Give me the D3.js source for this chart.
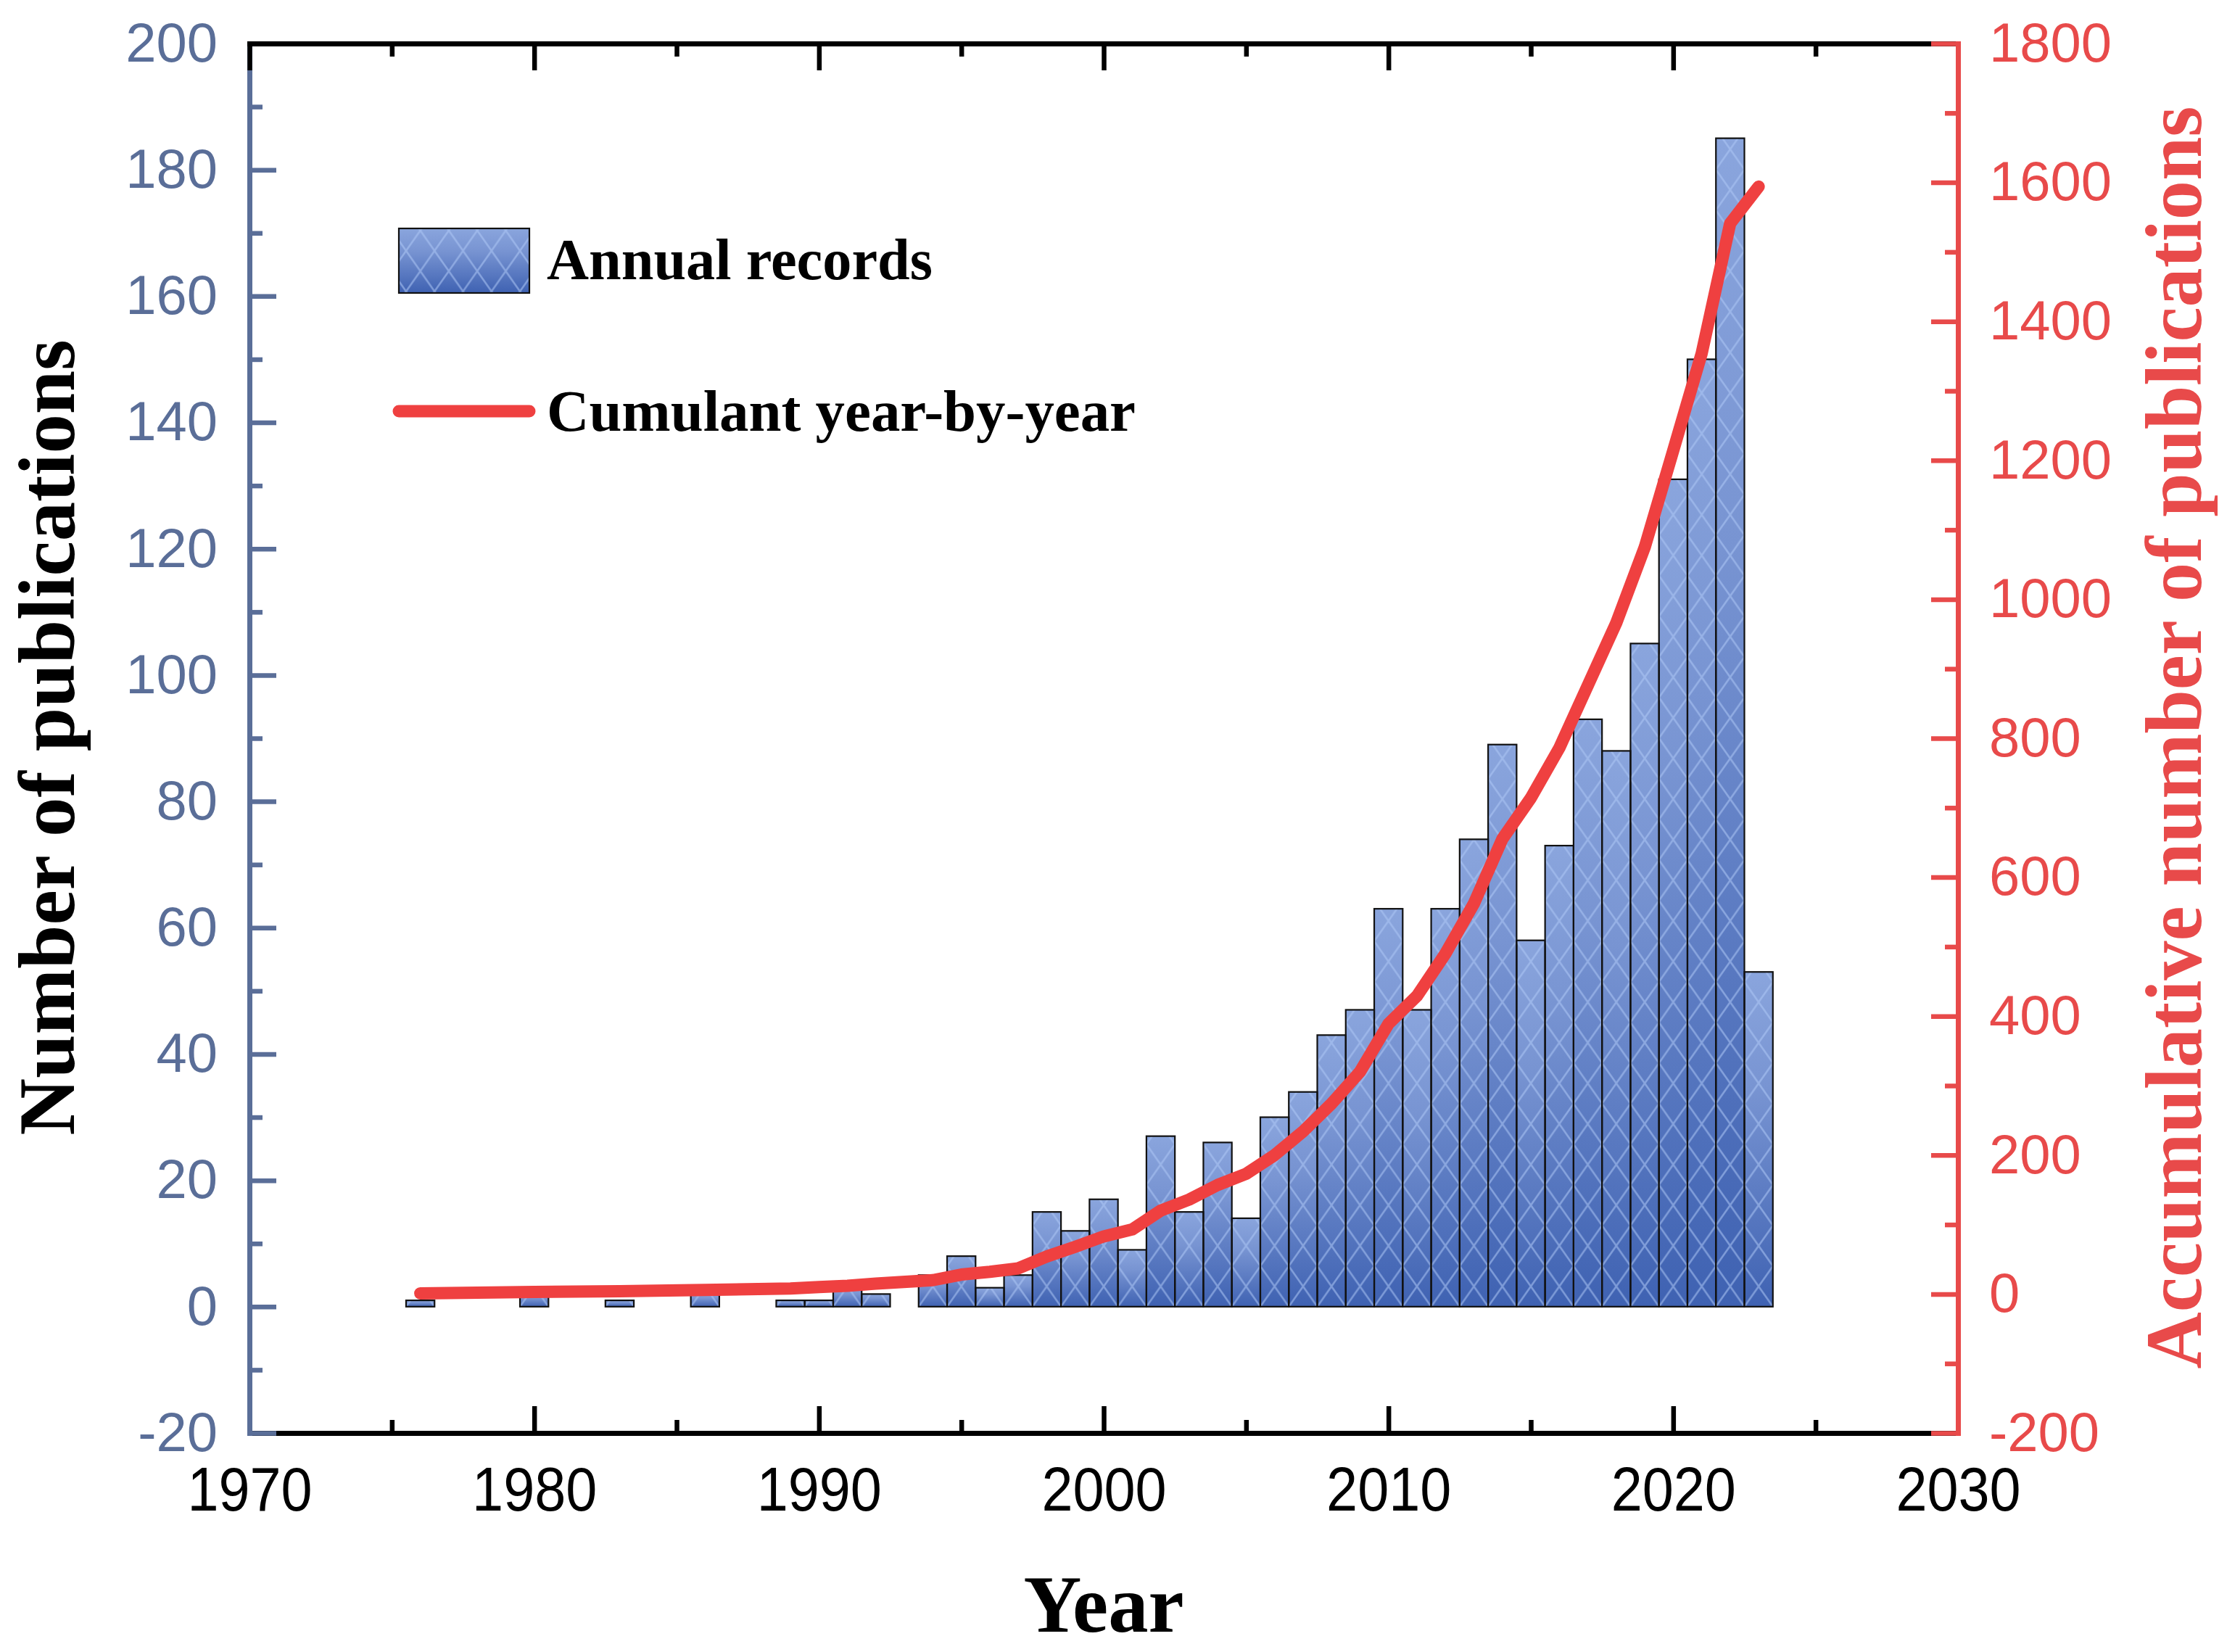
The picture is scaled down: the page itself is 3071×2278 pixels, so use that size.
<!DOCTYPE html>
<html>
<head>
<meta charset="utf-8">
<script src="https://cdn.jsdelivr.net/npm/d3@7"></script>
<style>
  body { margin: 0; background: #fff; }
</style>
</head>
<body>
<div id="chart"></div>
<script>
// years that have records (bars and cumulative line share them)
const years = [1976, 1980, 1983, 1986, 1989, 1990, 1991, 1992, 1994, 1995, 1996, 1997, 1998, 1999,
  2000, 2001, 2002, 2003, 2004, 2005, 2006, 2007, 2008, 2009, 2010, 2011, 2012, 2013, 2014,
  2015, 2016, 2017, 2018, 2019, 2020, 2021, 2022, 2023];
const annualRecords = [1, 2, 1, 2, 1, 1, 3, 2, 5, 8, 3, 5, 15, 12,
  17, 9, 27, 15, 26, 14, 30, 34, 43, 47, 63, 47, 63, 74, 89,
  58, 73, 93, 88, 105, 131, 150, 185, 53];
const cumulative = [1, 3, 4, 6, 8, 10, 12, 15, 20, 28, 32, 37, 54, 68,
  83, 93, 120, 136, 157, 173, 200, 234, 274, 320, 389, 429, 490, 562, 655,
  714, 786, 876, 966, 1075, 1214, 1354, 1541, 1594];

// tick labels
const yearTicks = [1970, 1980, 1990, 2000, 2010, 2020, 2030];
const yearMinor = [1975, 1985, 1995, 2005, 2015, 2025];
const leftTicks = [-20, 0, 20, 40, 60, 80, 100, 120, 140, 160, 180, 200];
const leftMinor = [-10, 10, 30, 50, 70, 90, 110, 130, 150, 170, 190];
const rightTicks = [-200, 0, 200, 400, 600, 800, 1000, 1200, 1400, 1600, 1800];
const rightMinor = [-100, 100, 300, 500, 700, 900, 1100, 1300, 1500, 1700];

const W = 3071, H = 2278;
const plot = {left: 344, right: 2700, top: 60, bottom: 1976};
const blueAxis = "#5a6e98";
const redAxis = "#e84a4a";
const lineRed = "#ef4040";
const plain = d => String(d);

const svg = d3.select("#chart").append("svg")
  .attr("width", W)
  .attr("height", H)
  .style("background", "#fff");

const x = d3.scaleLinear().domain([1970, 2030]).range([plot.left, plot.right]);
const yL = d3.scaleLinear().domain([-20, 200]).range([plot.bottom, plot.top]);
const yR = d3.scaleLinear().domain([-200, 1800]).range([plot.bottom, plot.top]);

const barW = x(1971) - x(1970);

// gradient + lattice pattern for bars
const defs = svg.append("defs");
const grad = defs.append("linearGradient")
  .attr("id", "barGrad")
  .attr("x1", 0).attr("y1", 0).attr("x2", 0).attr("y2", 1);
grad.append("stop").attr("offset", "0%").attr("stop-color", "#8aa5dd");
grad.append("stop").attr("offset", "35%").attr("stop-color", "#7894d2");
grad.append("stop").attr("offset", "100%").attr("stop-color", "#3f62b2");

const pat = defs.append("pattern")
  .attr("id", "lattice")
  .attr("patternUnits", "userSpaceOnUse")
  .attr("x", x(1969.5))
  .attr("y", yL(0))
  .attr("width", barW)
  .attr("height", 56);
pat.append("path")
  .attr("d", `M0,0L${barW},56M${barW},0L0,56`)
  .attr("stroke", "rgba(175,200,245,0.55)")
  .attr("stroke-width", 2.5)
  .attr("fill", "none");

const data = years.map((yr, i) => ({year: yr, n: annualRecords[i], cum: cumulative[i]}));

// bars
const bars = svg.append("g");
bars.selectAll("rect.fill")
  .data(data)
  .enter().append("rect")
  .attr("class", "fill")
  .attr("x", d => x(d.year - 0.5))
  .attr("width", barW)
  .attr("y", d => yL(d.n))
  .attr("height", d => yL(0) - yL(d.n))
  .attr("fill", "url(#barGrad)");
bars.selectAll("rect.hatch")
  .data(data)
  .enter().append("rect")
  .attr("class", "hatch")
  .attr("x", d => x(d.year - 0.5))
  .attr("width", barW)
  .attr("y", d => yL(d.n))
  .attr("height", d => yL(0) - yL(d.n))
  .attr("fill", "url(#lattice)")
  .attr("stroke", "#111")
  .attr("stroke-width", 2.2);

// cumulative line
const line = d3.line()
  .x(d => x(d.year))
  .y(d => yR(d.cum));
svg.append("path")
  .datum(data)
  .attr("d", line)
  .attr("fill", "none")
  .attr("stroke", lineRed)
  .attr("stroke-width", 17)
  .attr("stroke-linecap", "round")
  .attr("stroke-linejoin", "round");

// axes
function styleAxis(g, color) {
  g.select(".domain")
    .attr("stroke", color)
    .attr("stroke-width", 7)
    .attr("stroke-linecap", "square");
  g.selectAll(".tick line")
    .attr("stroke", color)
    .attr("stroke-width", 6.5);
  g.selectAll(".tick text")
    .attr("fill", color)
    .style("font-family", "'Liberation Sans', Arial, sans-serif");
}

// bottom
const gBottom = svg.append("g").attr("transform", `translate(0,${plot.bottom})`);
gBottom.append("g")
  .call(d3.axisBottom(x).tickValues(yearMinor).tickSize(-18).tickSizeOuter(0).tickFormat(""))
  .call(g => styleAxis(g, "#000"));
gBottom.append("g")
  .call(d3.axisBottom(x).tickValues(yearTicks).tickSize(-37).tickSizeOuter(0).tickPadding(46).tickFormat(plain))
  .call(g => styleAxis(g, "#000"))
  .call(g => g.selectAll(".tick text")
    .style("font-size", "86px")
    .attr("transform", "scale(0.9,1)"));

// left
const gLeft = svg.append("g").attr("transform", `translate(${plot.left},0)`);
gLeft.append("g")
  .call(d3.axisLeft(yL).tickValues(leftMinor).tickSize(-18).tickSizeOuter(0).tickFormat(""))
  .call(g => styleAxis(g, blueAxis));
gLeft.append("g")
  .call(d3.axisLeft(yL).tickValues(leftTicks).tickSize(-37).tickSizeOuter(0).tickPadding(44).tickFormat(plain))
  .call(g => styleAxis(g, blueAxis))
  .call(g => g.selectAll(".tick text").style("font-size", "76px"));

// top
const gTop = svg.append("g").attr("transform", `translate(0,${plot.top})`);
gTop.append("g")
  .call(d3.axisTop(x).tickValues(yearMinor).tickSize(-18).tickSizeOuter(0).tickFormat(""))
  .call(g => styleAxis(g, "#000"));
gTop.append("g")
  .call(d3.axisTop(x).tickValues(yearTicks).tickSize(-37).tickSizeOuter(0).tickFormat(""))
  .call(g => styleAxis(g, "#000"));

// right
const gRight = svg.append("g").attr("transform", `translate(${plot.right},0)`);
gRight.append("g")
  .call(d3.axisRight(yR).tickValues(rightMinor).tickSize(-18).tickSizeOuter(0).tickFormat(""))
  .call(g => styleAxis(g, redAxis));
gRight.append("g")
  .call(d3.axisRight(yR).tickValues(rightTicks).tickSize(-37).tickSizeOuter(0).tickPadding(43).tickFormat(plain))
  .call(g => styleAxis(g, redAxis))
  .call(g => g.selectAll(".tick text").style("font-size", "76px"));

// axis titles
const serif = "'Liberation Serif', 'Times New Roman', serif";
svg.append("text")
  .attr("x", (plot.left + plot.right) / 2)
  .attr("y", 2250)
  .attr("text-anchor", "middle")
  .attr("textLength", 221)
  .attr("lengthAdjust", "spacingAndGlyphs")
  .style("font-family", serif)
  .style("font-weight", "bold")
  .style("font-size", "113px")
  .text("Year");

svg.append("text")
  .attr("transform", "translate(102,1017) rotate(-90)")
  .attr("text-anchor", "middle")
  .attr("textLength", 1097)
  .attr("lengthAdjust", "spacingAndGlyphs")
  .style("font-family", serif)
  .style("font-weight", "bold")
  .style("font-size", "111px")
  .text("Number of publications");

svg.append("text")
  .attr("transform", "translate(3035,1017) rotate(-90)")
  .attr("text-anchor", "middle")
  .attr("textLength", 1741)
  .attr("lengthAdjust", "spacingAndGlyphs")
  .attr("fill", redAxis)
  .style("font-family", serif)
  .style("font-weight", "bold")
  .style("font-size", "110px")
  .text("Accumulative number of publications");

// legend
const legend = svg.append("g");
legend.append("rect")
  .attr("x", 550).attr("y", 315).attr("width", 180).attr("height", 89)
  .attr("fill", "url(#barGrad)");
legend.append("rect")
  .attr("x", 550).attr("y", 315).attr("width", 180).attr("height", 89)
  .attr("fill", "url(#lattice)")
  .attr("stroke", "#111")
  .attr("stroke-width", 2.2);
legend.append("text")
  .attr("x", 754).attr("y", 385)
  .attr("textLength", 532)
  .attr("lengthAdjust", "spacingAndGlyphs")
  .style("font-family", serif)
  .style("font-weight", "bold")
  .style("font-size", "80px")
  .text("Annual records");
legend.append("line")
  .attr("x1", 550).attr("x2", 730)
  .attr("y1", 567).attr("y2", 567)
  .attr("stroke", lineRed)
  .attr("stroke-width", 17)
  .attr("stroke-linecap", "round");
legend.append("text")
  .attr("x", 754).attr("y", 594)
  .attr("textLength", 812)
  .attr("lengthAdjust", "spacingAndGlyphs")
  .style("font-family", serif)
  .style("font-weight", "bold")
  .style("font-size", "80px")
  .text("Cumulant year-by-year");
</script>
</body>
</html>
